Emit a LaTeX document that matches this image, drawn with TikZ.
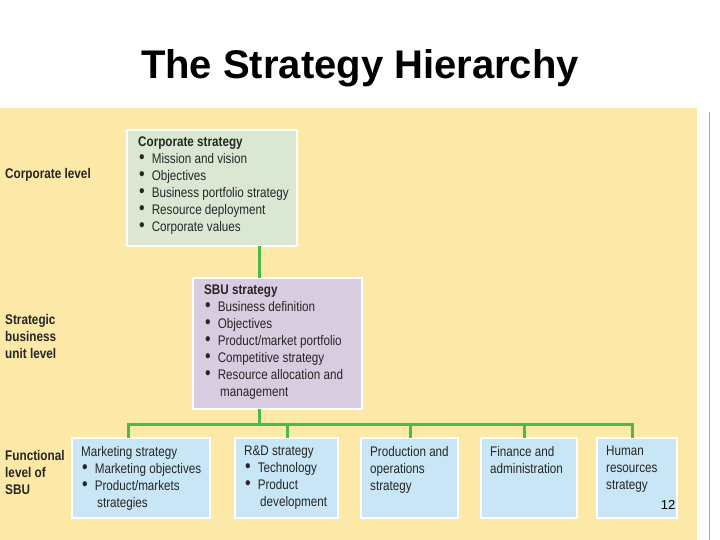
\documentclass[tikz,border=0pt]{standalone}
\usepackage{fontspec}
\setmainfont{Liberation Sans}
\newfontfamily\narrowfont[FakeStretch=0.84]{Liberation Sans}
\definecolor{pagebg}{HTML}{FCE9A8}
\definecolor{corpfill}{HTML}{DAE8D3}
\definecolor{sbufill}{HTML}{D8CCE0}
\definecolor{funcfill}{HTML}{C8E6F6}
\definecolor{linkgreen}{HTML}{4BB848}
\newcommand{\itm}{\hspace{1pt}{\fontsize{19}{17}\selectfont\textbullet}\hspace{7pt}}
\newcommand{\cnt}{\hspace{16pt}}
\tikzset{
  levelbox/.style={draw=white,line width=1.2pt,inner sep=0pt},
  boxtext/.style={anchor=north west,align=left,inner sep=0pt,
    font=\narrowfont\fontsize{13.9}{17}\selectfont,text=black!85},
  leveltext/.style={anchor=west,align=left,inner sep=0pt,
    font=\narrowfont\bfseries\fontsize{14}{17}\selectfont,text=black!85},
  link/.style={draw=linkgreen,line width=3pt}
}
\begin{document}
\begin{tikzpicture}[x=1pt,y=-1pt]
  \useasboundingbox (0,0) rectangle (720,540);
  \fill[white] (0,0) rectangle (720,540);
  \node[font=\bfseries\fontsize{40}{46}\selectfont] (title) at (360,68) {The Strategy Hierarchy};
  \fill[pagebg] (0,108) rectangle (697,540);
  \draw[gray!70,line width=1pt] (709,112) -- (709,540);
  % boxes
  \filldraw[levelbox,fill=corpfill] (127,130) rectangle (297,246);
  \filldraw[levelbox,fill=sbufill] (193,278) rectangle (362,409);
  \filldraw[levelbox,fill=funcfill] (72,438) rectangle (210,518);
  \filldraw[levelbox,fill=funcfill] (235,438) rectangle (338,518);
  \filldraw[levelbox,fill=funcfill] (361,438) rectangle (458,518);
  \filldraw[levelbox,fill=funcfill] (481,438) rectangle (577,518);
  \filldraw[levelbox,fill=funcfill] (597,438) rectangle (677,518);
  % connectors
  \coordinate (corpbot) at (259,246);
  \coordinate (sbutop) at (259,278);
  \coordinate (sbubot) at (259,409);
  \coordinate (busy) at (259,424);
  \draw[link] (corpbot) -- (sbutop);
  \draw[link] (sbubot) -- (busy);
  \draw[link] (128,438) -- (128,424) -- (632,424) -- (632,438);
  \foreach \xf in {287,410,524} \draw[link] (\xf,424) -- (\xf,438);
  % texts
  \node[leveltext] (corplevel) at (5,175) {Corporate level};
  \node[leveltext] (sbulevel) at (5,336) {Strategic\\business\\unit level};
  \node[leveltext] (funclevel) at (5,472) {Functional\\level of\\SBU};
  \node[boxtext] (corptext) at (138,137) {\textbf{Corporate strategy}\\
    \itm Mission and vision\\\itm Objectives\\\itm Business portfolio strategy\\
    \itm Resource deployment\\\itm Corporate values};
  \node[boxtext] (sbutext) at (204,285) {\textbf{SBU strategy}\\
    \itm Business definition\\\itm Objectives\\\itm Product/market portfolio\\
    \itm Competitive strategy\\\itm Resource allocation and\\\cnt management};
  \node[boxtext] (mkttext) at (81,446) {Marketing strategy\\\itm Marketing objectives\\
    \itm Product/markets\\\cnt strategies};
  \node[boxtext] (rdtext) at (244,446) {R\&D strategy\\\itm Technology\\\itm Product\\\cnt development};
  \node[boxtext] (prodtext) at (370,446) {Production and\\operations\\strategy};
  \node[boxtext] (fintext) at (490,446) {Finance and\\administration};
  \node[boxtext] (hrtext) at (606,446) {Human\\resources\\strategy};
  \node[font=\fontsize{13}{15}\selectfont] (pagenum) at (668,505) {12};
\end{tikzpicture}
\end{document}
